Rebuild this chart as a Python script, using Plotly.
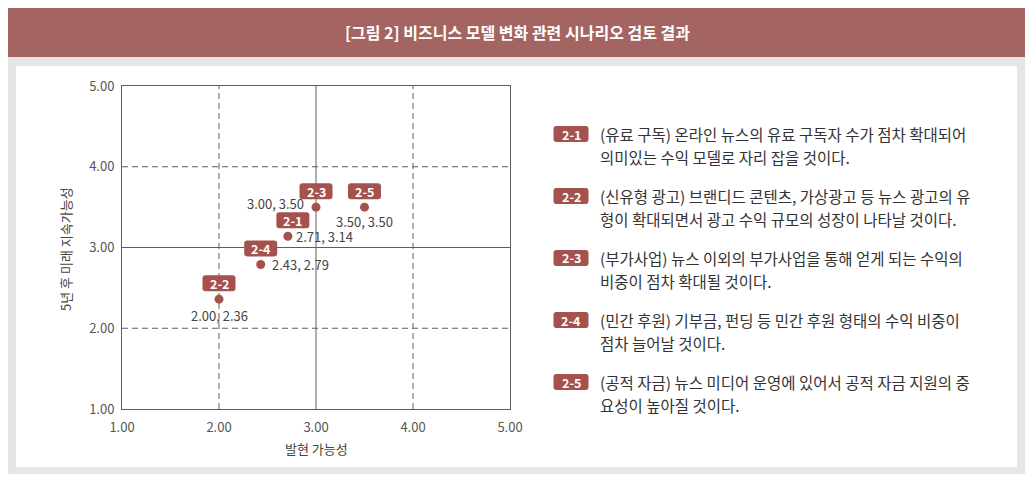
import plotly.graph_objects as go

# ---------------- data ----------------
codes = ["2-1", "2-2", "2-3", "2-4", "2-5"]
x_vals = [2.71, 2.00, 3.00, 2.43, 3.50]   # 발현 가능성
y_vals = [3.14, 2.36, 3.50, 2.79, 3.50]   # 5년 후 미래 지속가능성
tick_vals = [1.0, 2.0, 3.0, 4.0, 5.0]
tick_text = ["1.00", "2.00", "3.00", "4.00", "5.00"]
dashed_grid = [2.0, 4.0]
solid_grid = [3.0]

title_text = "[그림 2] 비즈니스 모델 변화 관련 시나리오 검토 결과"
x_title = "발현 가능성"
y_title = "5년 후 미래 지속가능성"

legend_lines = [
    ("(유료 구독) 온라인 뉴스의 유료 구독자 수가 점차 확대되어", "의미있는 수익 모델로 자리 잡을 것이다."),
    ("(신유형 광고) 브랜디드 콘텐츠, 가상광고 등 뉴스 광고의 유", "형이 확대되면서 광고 수익 규모의 성장이 나타날 것이다."),
    ("(부가사업) 뉴스 이외의 부가사업을 통해 얻게 되는 수익의", "비중이 점차 확대될 것이다."),
    ("(민간 후원) 기부금, 펀딩 등 민간 후원 형태의 수익 비중이", "점차 늘어날 것이다."),
    ("(공적 자금) 뉴스 미디어 운영에 있어서 공적 자금 지원의 중", "요성이 높아질 것이다."),
]

# ---------------- layout / style ----------------
OFF = 8                                  # page body margin of the browser
W, H = 1033 - OFF, 483 - OFF
# plot area in window pixels
L0, R0, T0, B0 = 122, 510, 86, 409
L, R, T, B = L0 - OFF, R0 - OFF, T0 - OFF, B0 - OFF
FONT = "Noto Sans CJK KR"
HEADER = "#a46461"
BADGE = "#a5524f"
FRAME = "#e6e6e6"
AXIS = "#5e5e5e"
TXT = "#444444"

def px(x):
    return (x - OFF - L) / (R - L)

def py(y):
    return (B - (y - OFF)) / (B - T)

def rrect(cx, cy, w, h, r):
    x0, x1 = cx - w / 2, cx + w / 2
    y0, y1 = cy - h / 2, cy + h / 2
    return (f"M{x0 + r},{y0} L{x1 - r},{y0} Q{x1},{y0} {x1},{y0 + r} "
            f"L{x1},{y1 - r} Q{x1},{y1} {x1 - r},{y1} L{x0 + r},{y1} "
            f"Q{x0},{y1} {x0},{y1 - r} L{x0},{y0 + r} Q{x0},{y0} {x0 + r},{y0} Z")

# per-point label placement (pixels)
badge_dx = [5, 0, 0, 0, 0]
badge_dy = [16, 16, 16, 16, 16]
val_pos = ["right", "below", "left", "right", "below"]
val_shift = [6, 16, 10, 9, 14]

shapes = []
annotations = []

# page frame
shapes.append(dict(type="rect", xref="paper", yref="paper", layer="below",
                   x0=px(8), x1=px(1025), y0=py(474), y1=py(57),
                   fillcolor=FRAME, line=dict(width=0)))
shapes.append(dict(type="rect", xref="paper", yref="paper", layer="below",
                   x0=px(16), x1=px(1017), y0=py(467), y1=py(66),
                   fillcolor="white", line=dict(width=0)))
shapes.append(dict(type="rect", xref="paper", yref="paper", layer="below",
                   x0=px(8), x1=px(1025), y0=py(57), y1=py(7),
                   fillcolor=HEADER, line=dict(width=0)))
annotations.append(dict(xref="paper", yref="paper", x=px(517), y=py(32),
                        text=f"<b>{title_text}</b>", showarrow=False,
                        font=dict(family=FONT, size=16, color="white"),
                        xanchor="center", yanchor="middle"))

# grid lines
for g in dashed_grid:
    shapes.append(dict(type="line", xref="x", yref="paper", x0=g, x1=g, y0=0, y1=1,
                       layer="below", line=dict(color=AXIS, width=1, dash="6px,4px")))
    shapes.append(dict(type="line", xref="paper", yref="y", x0=0, x1=1, y0=g, y1=g,
                       layer="below", line=dict(color=AXIS, width=1, dash="6px,4px")))
for g in solid_grid:
    shapes.append(dict(type="line", xref="x", yref="paper", x0=g, x1=g, y0=0, y1=1,
                       layer="below", line=dict(color=AXIS, width=1)))
    shapes.append(dict(type="line", xref="paper", yref="y", x0=0, x1=1, y0=g, y1=g,
                       layer="below", line=dict(color=AXIS, width=1)))

# point badges and value labels
for i, c in enumerate(codes):
    shapes.append(dict(type="path", xref="x", yref="y",
                       xsizemode="pixel", ysizemode="pixel",
                       xanchor=x_vals[i], yanchor=y_vals[i],
                       path=rrect(badge_dx[i], badge_dy[i], 33, 16, 3),
                       fillcolor=BADGE, line=dict(width=0), layer="above"))
    annotations.append(dict(x=x_vals[i], y=y_vals[i], xref="x", yref="y",
                            text=f"<b>{c}</b>", showarrow=False,
                            xshift=badge_dx[i], yshift=badge_dy[i],
                            font=dict(family=FONT, size=12.5, color="white"),
                            xanchor="center", yanchor="middle"))
    lab = f"{x_vals[i]:.2f}, {y_vals[i]:.2f}"
    a = dict(x=x_vals[i], y=y_vals[i], xref="x", yref="y", text=lab, showarrow=False,
             font=dict(family=FONT, size=13, color=TXT), yanchor="middle")
    if val_pos[i] == "right":
        a.update(xanchor="left", xshift=val_shift[i])
    elif val_pos[i] == "left":
        a.update(xanchor="right", xshift=-val_shift[i], yshift=4)
    else:
        a.update(xanchor="center", yshift=-val_shift[i])
    annotations.append(a)

# axis titles
annotations.append(dict(xref="paper", yref="paper", x=px(316), y=py(448), text=x_title,
                        showarrow=False, font=dict(family=FONT, size=13, color=TXT),
                        xanchor="center", yanchor="middle"))
annotations.append(dict(xref="paper", yref="paper", x=px(65), y=py(249), text=y_title,
                        showarrow=False, textangle=-90,
                        font=dict(family=FONT, size=13, color=TXT),
                        xanchor="center", yanchor="middle"))

# legend list on the right
for i, (l1, l2) in enumerate(legend_lines):
    yc = 134 + 62 * i
    shapes.append(dict(type="path", xref="paper", yref="paper",
                       xsizemode="pixel", ysizemode="pixel",
                       xanchor=px(571), yanchor=py(yc),
                       path=rrect(0, 0, 35, 16, 3),
                       fillcolor=BADGE, line=dict(width=0)))
    annotations.append(dict(xref="paper", yref="paper", x=px(571), y=py(yc),
                            text=f"<b>{codes[i]}</b>", showarrow=False,
                            font=dict(family=FONT, size=12.5, color="white"),
                            xanchor="center", yanchor="middle"))
    for j, line in enumerate((l1, l2)):
        annotations.append(dict(xref="paper", yref="paper", x=px(598), y=py(yc + 23 * j),
                                text=line, showarrow=False,
                                font=dict(family=FONT, size=15.5, color="#333333"),
                                xanchor="left", yanchor="middle"))

fig = go.Figure()
fig.add_trace(go.Scatter(x=x_vals, y=y_vals, mode="markers", text=codes,
                         marker=dict(size=9, color=BADGE), hoverinfo="text+x+y",
                         showlegend=False))

axis_common = dict(range=[1, 5], tickvals=tick_vals, ticktext=tick_text,
                   showgrid=False, zeroline=False, showline=True, mirror=True,
                   linecolor=AXIS, linewidth=1, ticks="",
                   tickfont=dict(family=FONT, size=13, color="#555555"))
fig.update_layout(
    width=W, height=H,
    margin=dict(l=L, r=W - R, t=T, b=H - B, pad=0),
    paper_bgcolor="white", plot_bgcolor="rgba(0,0,0,0)",
    xaxis=dict(**axis_common, ticklabelstandoff=6),
    yaxis=dict(**axis_common, ticklabelstandoff=4),
    shapes=shapes, annotations=annotations,
    showlegend=False,
)
fig.write_html("out.html")
